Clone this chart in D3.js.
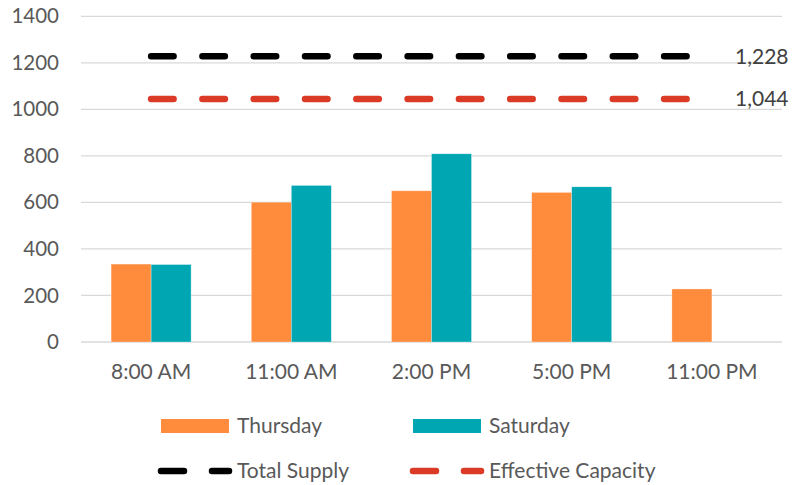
<!DOCTYPE html>
<html><head><meta charset="utf-8">
<script src="https://cdn.jsdelivr.net/npm/d3@7"></script>
<style>body{margin:0;background:#fff;}svg{display:block;font-family:Lato,"Open Sans",sans-serif;}</style>
</head><body>
<svg id="c" width="803" height="485"></svg>
<script>
const categories = ["8:00 AM","11:00 AM","2:00 PM","5:00 PM","11:00 PM"];
const thursday = [335, 601, 650, 643, 228];
const saturday = [333, 673, 809, 667, null];
const totalSupply = 1228;
const effectiveCapacity = 1044;
const yTicks = [0,200,400,600,800,1000,1200,1400];
const seriesNames = ["Thursday","Saturday","Total Supply","Effective Capacity"];
const colors = {Thursday:"#FF8B3D", Saturday:"#00A6B2", "Total Supply":"#000000", "Effective Capacity":"#DB3A27"};

const svg = d3.select("#c");
const x = d3.scaleBand().domain(categories).range([81, 782]);
const y = d3.scaleLinear().domain([0,1400]).range([342, 16.3]);
const textColor = "#595959";

// gridlines
svg.append("g").selectAll("line").data(yTicks).join("line")
  .attr("x1",81).attr("x2",782).attr("y1",d=>y(d)).attr("y2",d=>y(d))
  .attr("stroke","#D9D9D9").attr("stroke-width",1.3);

// y axis labels
const yAxis = d3.axisLeft(y).tickValues(yTicks).tickFormat(d3.format("d")).tickSize(0).tickPadding(0);
const ya = svg.append("g").attr("transform","translate(59,0)").call(yAxis);
ya.select(".domain").remove();
ya.selectAll("text").attr("fill",textColor).attr("font-size",20.5).attr("font-family","Lato, sans-serif");

// x axis labels
const xAxis = d3.axisBottom(x).tickSize(0).tickPadding(0);
const xa = svg.append("g").attr("transform","translate(0,364)").call(xAxis);
xa.select(".domain").remove();
xa.selectAll("text").attr("fill",textColor).attr("font-size",21).attr("font-family","Lato, sans-serif");

// bars
const inner = d3.scaleBand().domain(["Thursday","Saturday"]).range([0, 80]);
const groupOffset = (x.bandwidth()-80)/2;
const barData = [];
categories.forEach((c,i)=>{
  barData.push({c, s:"Thursday", v:thursday[i]});
  if (saturday[i] != null) barData.push({c, s:"Saturday", v:saturday[i]});
});
svg.append("g").selectAll("rect").data(barData).join("rect")
  .attr("x",d=>x(d.c)+groupOffset+inner(d.s))
  .attr("width",inner.bandwidth())
  .attr("y",d=>y(d.v))
  .attr("height",d=>y(0)-y(d.v))
  .attr("fill",d=>colors[d.s])
  .attr("stroke","#fff").attr("stroke-opacity",0.5).attr("stroke-width",0.6);

// dashed lines
const lineGen = d3.line().x(d=>x(d.c)+x.bandwidth()/2).y(d=>y(d.v));
[["Total Supply", totalSupply],["Effective Capacity", effectiveCapacity]].forEach(([name,val])=>{
  const pts = categories.map(c=>({c, v:val}));
  svg.append("path").datum(pts).attr("d",lineGen)
    .attr("fill","none").attr("stroke",colors[name]).attr("stroke-width",6.5)
    .attr("stroke-linecap","round").attr("stroke-dasharray","22.5 28.8");
  svg.append("text").attr("x",735).attr("y",y(val)).attr("dy","0.35em")
    .attr("fill","#404040").attr("font-size",21).text(d3.format(",")(val));
});

// legend
const leg = svg.append("g");
const legItems = [
  {name:"Thursday", type:"bar", x:161, y:426},
  {name:"Saturday", type:"bar", x:413, y:426},
  {name:"Total Supply", type:"line", x:161, y:471},
  {name:"Effective Capacity", type:"line", x:413, y:471}
];
legItems.forEach(it=>{
  if (it.type==="bar") {
    leg.append("rect").attr("x",it.x).attr("y",it.y-7).attr("width",68).attr("height",14).attr("fill",colors[it.name]);
  } else {
    leg.append("line").attr("x1",it.x).attr("x2",it.x+23).attr("y1",it.y).attr("y2",it.y)
      .attr("stroke",colors[it.name]).attr("stroke-width",6.5).attr("stroke-linecap","round");
    leg.append("line").attr("x1",it.x+51).attr("x2",it.x+68).attr("y1",it.y).attr("y2",it.y)
      .attr("stroke",colors[it.name]).attr("stroke-width",6.5).attr("stroke-linecap","round");
  }
  leg.append("text").attr("x",it.x+76).attr("y",it.y).attr("dy","0.35em")
    .attr("fill",textColor).attr("font-size",21).text(it.name);
});
</script>
</body></html>
